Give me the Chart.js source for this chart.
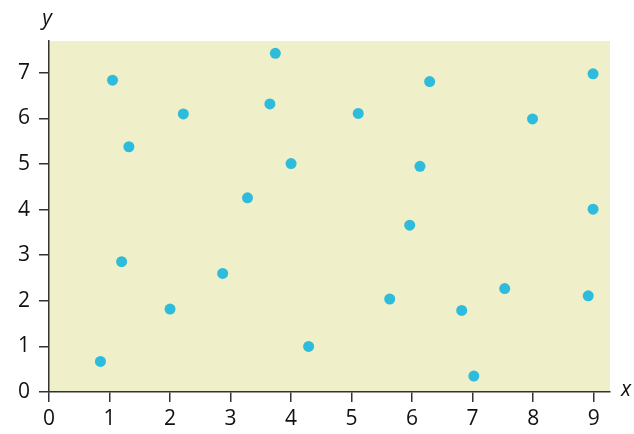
<!DOCTYPE html>
<html>
<head>
<meta charset="utf-8">
<script src="https://cdn.jsdelivr.net/npm/chart.js@4/dist/chart.umd.min.js"></script>
<style>
  html, body { margin: 0; padding: 0; background: #fff; overflow: hidden; }
  #wrap { width: 634px; height: 434px; }
</style>
</head>
<body>
<div id="wrap"><canvas id="scatter" width="634" height="434"></canvas></div>
<script>
// datos
const xValues = [0.85, 1.05, 1.20, 1.32, 2.00, 2.22, 2.87, 3.28, 3.65, 3.74, 4.00, 4.29,
                 5.11, 5.63, 5.96, 6.13, 6.29, 6.82, 7.02, 7.53, 7.99, 8.91, 8.99, 8.99];
const yValues = [0.67, 6.84, 2.86, 5.38, 1.82, 6.10, 2.60, 4.26, 6.32, 7.43, 5.01, 1.00,
                 6.11, 2.04, 3.66, 4.95, 6.81, 1.79, 0.35, 2.27, 5.99, 2.11, 6.98, 4.01];
const xTicks = [0, 1, 2, 3, 4, 5, 6, 7, 8, 9];
const yTicks = [0, 1, 2, 3, 4, 5, 6, 7];

const axisColor = '#333333';
const fontFamily = '"Open Sans", "DejaVu Sans", sans-serif';

// fondo del área del gráfico + etiquetas de ejes
const plotBackground = {
    id: 'plotBackground',
    beforeDraw(chart) {
        const { ctx, chartArea } = chart;
        ctx.save();
        ctx.fillStyle = '#efefc9';
        ctx.fillRect(chartArea.left, chartArea.top,
                     chartArea.right - chartArea.left, chartArea.bottom - chartArea.top);
        ctx.restore();
    },
    afterDraw(chart) {
        const { ctx, chartArea } = chart;
        ctx.save();
        ctx.fillStyle = '#111';
        ctx.font = 'italic 21px ' + fontFamily;
        ctx.textAlign = 'center';
        ctx.textBaseline = 'middle';
        ctx.fillText('y', chartArea.left - 2, 19);
        ctx.fillText('x', chartArea.right + 16, chartArea.bottom - 2);
        ctx.restore();
    }
};

const points = xValues.map((x, i) => ({ x: x, y: yValues[i] }));

const ctx = document.getElementById('scatter').getContext('2d');
const scatterChart = new Chart(ctx, {
    type: 'scatter',
    data: {
        datasets: [{
            data: points,
            backgroundColor: 'rgb(46, 188, 220)',
            borderWidth: 0,
            pointRadius: 5.5,
            pointHoverRadius: 5.5
        }]
    },
    options: {
        responsive: false,
        animation: false,
        maintainAspectRatio: false,
        layout: { padding: { left: 0, top: 41, right: 24, bottom: 0 } },
        plugins: { legend: { display: false }, tooltip: { enabled: false } },
        scales: {
            x: {
                type: 'linear',
                min: 0,
                max: 9.27,
                afterBuildTicks(scale) { scale.ticks = xTicks.map(v => ({ value: v })); },
                afterFit(scale) { scale.height = 42; },
                border: { display: true, color: axisColor, width: 1.5 },
                grid: { drawOnChartArea: false, drawTicks: true, tickLength: 10, color: axisColor, lineWidth: 1.5 },
                ticks: { color: '#111', padding: 4, font: { family: fontFamily, size: 21 } }
            },
            y: {
                type: 'linear',
                min: 0,
                max: 7.7,
                afterBuildTicks(scale) { scale.ticks = yTicks.map(v => ({ value: v })); },
                afterFit(scale) { scale.width = 49; },
                border: { display: true, color: axisColor, width: 1.5 },
                grid: { drawOnChartArea: false, drawTicks: true, tickLength: 10, color: axisColor, lineWidth: 1.5 },
                ticks: { color: '#111', padding: 9, font: { family: fontFamily, size: 21 } }
            }
        }
    },
    plugins: [plotBackground]
});
</script>
</body>
</html>
